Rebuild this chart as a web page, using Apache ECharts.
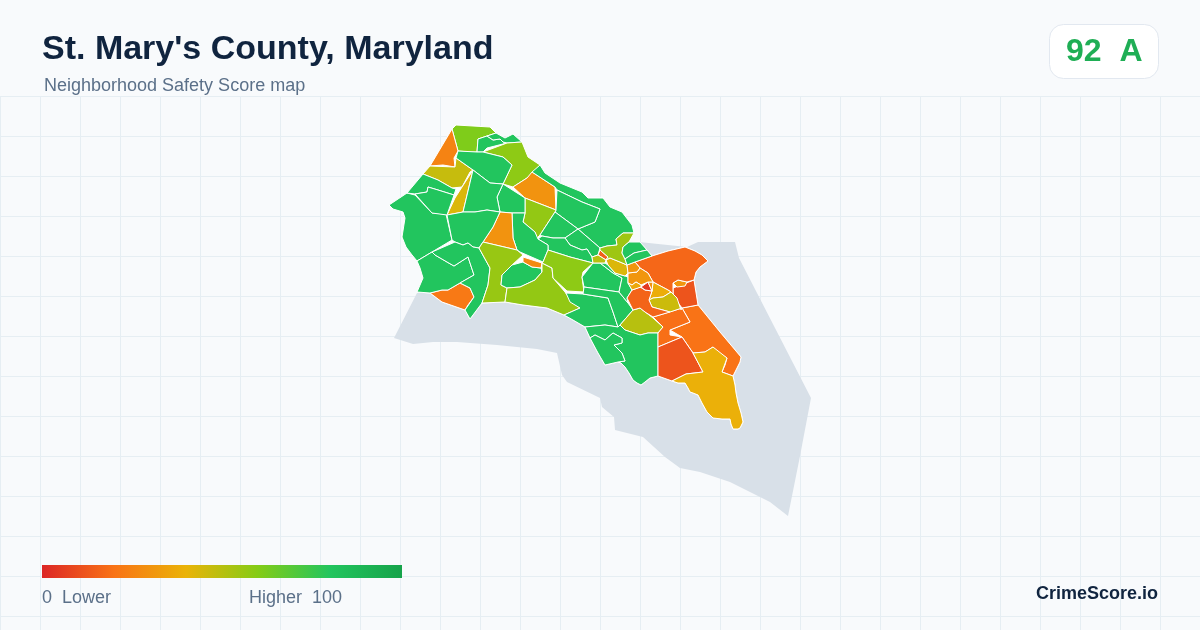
<!DOCTYPE html>
<html>
<head>
<meta charset="utf-8">
<title>St. Mary's County, Maryland</title>
<script src="https://cdn.jsdelivr.net/npm/echarts@6/dist/echarts.min.js"></script>
<style>
  html, body { margin: 0; padding: 0; background: #f8fafc; }
  #chart { width: 1200px; height: 630px; }
</style>
</head>
<body>
<div id="chart"></div>
<script>
// county outline including the water it owns (map units)
const waterOutline = [[394,338],[417,293],[480,260],[620,240],[687,247],[698,242],[735,242],[739,258],[775,328],[811,398],[800,456],[788,516],[770,502],[730,482],[700,472],[680,468],[665,457],[643,437],[615,430],[614,417],[602,407],[600,398],[567,382],[562,375],[557,353],[537,349],[497,345],[457,342],[433,342],[413,344]];

const landOutline = [[452,129],[456,125],[490,127],[496,133],[505,138],[513,134],[522,142],[528,157],[540,165],[545,173],[560,183],[582,192],[588,198],[603,198],[610,207],[622,212],[632,225],[634,233],[629,242],[640,242],[652,256],[668,251],[685,247],[695,251],[702,255],[708,261],[700,267],[696,272],[694,280],[698,305],[720,332],[741,357],[740,362],[733,376],[735,385],[736,393],[738,403],[741,413],[743,422],[740,428],[738,429],[733,429],[731,424],[730,419],[722,419],[713,418],[710,415],[707,412],[702,403],[698,395],[693,393],[690,392],[688,388],[685,383],[678,383],[672,381],[658,376],[650,378],[645,382],[641,385],[637,383],[633,380],[629,373],[625,367],[621,363],[618,362],[605,365],[598,353],[590,338],[585,327],[573,320],[564,315],[547,308],[523,305],[505,302],[482,303],[470,319],[465,310],[442,302],[430,293],[417,292],[420,285],[423,278],[420,268],[417,261],[412,255],[406,247],[402,237],[405,218],[403,212],[393,209],[389,205],[407,193],[423,174],[430,166]];

const tractShapes = [
  [[452,129],[456,125],[490,127],[496,133],[487,136],[478,139],[477,152],[470,152],[458,151]],
  [[452,129],[458,151],[454,158],[455,167],[443,165],[430,166]],
  [[423,174],[430,166],[455,167],[456,158],[473,170],[470,172],[462,187],[452,188],[438,180]],
  [[473,170],[463,212],[447,215],[455,198],[462,187]],
  [[477,152],[478,139],[487,136],[493,140],[500,139],[503,142],[507,143],[487,148],[483,152]],
  [[487,136],[496,133],[505,138],[513,134],[522,142],[507,143],[503,142],[500,139],[493,140]],
  [[483,152],[507,143],[522,142],[528,157],[540,165],[527,178],[513,187],[503,184],[512,165],[503,157]],
  [[458,151],[477,152],[483,152],[503,157],[512,165],[503,184],[490,183],[473,170],[456,158]],
  [[513,187],[527,178],[532,172],[555,187],[556,210],[525,198]],
  [[532,172],[540,165],[545,173],[560,183],[582,192],[588,198],[603,198],[610,207],[622,212],[632,225],[634,233],[623,233],[616,239],[617,245],[607,246],[600,248],[578,229],[595,222],[600,209],[582,202],[557,190],[555,187]],
  [[557,190],[582,202],[600,209],[595,222],[578,229],[555,212],[556,210]],
  [[525,198],[556,210],[555,212],[540,235],[537,238],[535,232],[523,222],[525,213]],
  [[555,212],[578,229],[565,238],[553,238],[542,236],[540,235]],
  [[565,238],[578,229],[600,248],[598,255],[592,257],[587,249],[582,250],[570,245]],
  [[542,236],[553,238],[565,238],[570,245],[582,250],[587,249],[592,257],[593,263],[570,257],[548,250],[548,245],[538,239]],
  [[503,184],[525,198],[525,213],[512,213],[500,212],[497,197]],
  [[512,213],[525,213],[523,222],[535,232],[538,239],[548,245],[548,250],[543,262],[520,252],[517,250],[513,238]],
  [[500,212],[512,213],[513,238],[517,250],[483,242],[493,227]],
  [[473,170],[490,183],[503,184],[497,197],[500,212],[487,210],[475,212],[465,212],[463,212]],
  [[407,193],[415,195],[432,213],[446,214],[452,240],[432,252],[417,261],[412,255],[406,247],[402,237],[405,218],[403,212],[393,209],[389,205]],
  [[407,193],[423,174],[438,180],[452,188],[456,189],[454,195],[438,190],[428,187],[427,192],[415,194]],
  [[415,194],[427,192],[428,187],[438,190],[454,195],[447,215],[432,213]],
  [[447,215],[463,212],[475,212],[487,210],[500,212],[493,227],[483,242],[479,248],[473,247],[468,243],[463,245],[455,242],[452,240]],
  [[430,293],[442,290],[448,290],[460,283],[470,288],[474,297],[468,305],[465,310],[442,302]],
  [[417,261],[432,252],[435,255],[447,262],[454,266],[468,257],[474,275],[460,283],[448,290],[442,290],[430,293],[417,292],[420,285],[423,278],[420,268]],
  [[432,252],[455,242],[463,245],[468,243],[473,247],[479,248],[490,268],[488,285],[482,303],[470,319],[465,310],[474,297],[470,288],[460,283],[474,275],[468,257],[454,266],[447,262],[435,255]],
  [[479,248],[483,242],[517,250],[523,255],[512,265],[502,275],[501,285],[507,288],[505,302],[482,303],[488,285],[490,268]],
  [[523,262],[532,267],[541,268],[542,272],[535,280],[520,287],[507,288],[501,285],[502,275],[512,265]],
  [[523,257],[542,263],[541,268],[532,267],[523,262]],
  [[542,263],[552,268],[553,278],[565,292],[572,302],[580,308],[564,315],[547,308],[523,305],[505,302],[507,288],[520,287],[535,280],[542,272]],
  [[548,250],[570,257],[593,263],[583,272],[582,277],[584,292],[567,291],[553,278],[552,268],[542,263],[543,262]],
  [[582,277],[593,263],[600,263],[613,273],[622,278],[619,292],[584,287]],
  [[566,293],[583,294],[608,298],[613,312],[618,327],[605,325],[585,327],[573,320],[564,315],[580,308],[570,302]],
  [[584,287],[619,292],[628,303],[633,310],[620,325],[618,327],[613,312],[608,298],[583,294]],
  [[605,263],[608,265],[615,273],[625,276],[628,277],[628,283],[632,290],[627,298],[628,303],[619,292],[622,278],[613,273],[600,263]],
  [[620,325],[633,310],[640,308],[653,318],[663,327],[658,333],[648,333],[640,335],[625,330]],
  [[585,327],[605,325],[618,327],[620,325],[625,330],[640,335],[648,333],[658,333],[658,347],[658,376],[650,378],[645,382],[641,385],[637,383],[633,380],[629,373],[625,367],[621,363],[618,362],[625,361],[622,353],[614,345],[622,343],[622,338],[613,333],[605,340],[595,335],[590,338]],
  [[590,338],[595,335],[605,340],[613,333],[622,338],[622,343],[614,345],[622,353],[625,361],[618,362],[605,365],[598,353]],
  [[682,308],[698,305],[720,332],[741,357],[740,362],[733,376],[722,372],[725,365],[727,358],[719,353],[713,347],[705,352],[693,353],[682,337],[670,330],[690,322]],
  [[653,317],[682,308],[690,322],[670,330],[670,335],[682,337],[658,347],[658,333],[663,327]],
  [[658,347],[682,337],[693,353],[703,372],[686,374],[672,381],[658,376]],
  [[693,353],[705,352],[713,347],[727,358],[722,372],[733,376],[735,385],[736,393],[738,403],[741,413],[743,422],[740,428],[738,429],[733,429],[731,424],[730,419],[722,419],[713,418],[710,415],[707,412],[702,403],[698,395],[693,393],[690,392],[688,388],[685,383],[678,383],[672,381],[686,374],[703,372]],
  [[673,288],[694,280],[698,305],[682,308],[673,296]],
  [[673,283],[678,280],[687,282],[685,286],[677,287]],
  [[635,262],[652,256],[668,251],[685,247],[695,251],[702,255],[708,261],[700,267],[696,272],[694,280],[687,282],[678,280],[673,283],[673,288],[673,296],[677,298],[671,292],[668,290],[653,282],[648,273],[640,268]],
  [[652,291],[653,282],[668,290],[671,292],[663,297],[653,298],[649,300]],
  [[653,298],[663,297],[671,292],[677,298],[681,310],[682,308],[670,312],[652,307],[649,300]],
  [[627,298],[632,290],[640,287],[641,287],[645,290],[652,291],[649,300],[652,307],[670,312],[653,317],[645,312],[640,308],[633,310]],
  [[641,287],[648,282],[652,291],[645,290]],
  [[648,282],[653,282],[652,291]],
  [[628,273],[637,272],[640,268],[648,273],[653,282],[648,282],[641,285],[636,282],[632,285],[628,283]],
  [[628,283],[632,285],[636,282],[641,285],[641,287],[640,287],[632,290]],
  [[606,260],[610,258],[620,262],[627,265],[628,273],[625,276],[615,273],[608,265]],
  [[627,265],[635,262],[640,268],[637,272],[628,273]],
  [[600,250],[608,257],[606,260],[598,255]],
  [[592,257],[598,255],[606,260],[605,263],[600,263],[593,263]],
  [[600,248],[607,246],[617,245],[616,239],[623,233],[634,233],[629,242],[623,247],[622,253],[625,259],[627,265],[620,262],[610,258],[606,260],[608,257],[600,250]],
  [[623,247],[629,242],[640,242],[647,250],[634,253],[625,259],[622,253]],
  [[625,259],[634,253],[647,250],[652,256],[635,262],[627,265]]
];

const tractScores = [61, 25, 47, 43, 80, 80, 58, 80, 30, 80, 80, 57, 80, 80, 80, 80, 80, 30, 80, 80, 80, 80, 80, 22, 80, 80, 56, 80, 27, 57, 58, 80, 80, 80, 80, 50, 80, 80, 20, 19, 12, 39, 12, 31, 17, 38, 46, 16, 5, 30, 31, 37, 43, 31, 15, 50, 55, 80, 80];
const tractNames = tractScores.map((_, i) => "Tract " + (i + 1));

const legendColors = ["#dc2626", "#f97316", "#eab308", "#84cc16", "#22c55e", "#16a34a"];

const features = [
  { type: "Feature", properties: { name: "Water" }, geometry: { type: "Polygon", coordinates: [waterOutline] } },
  { type: "Feature", properties: { name: "Land" }, geometry: { type: "Polygon", coordinates: [landOutline] } }
];
tractShapes.forEach((ring, i) => {
  features.push({ type: "Feature", properties: { name: tractNames[i] }, geometry: { type: "Polygon", coordinates: [ring] } });
});
echarts.registerMap("stmarys", { type: "FeatureCollection", features: features });

// the map box is the bounding box of what was traced, so map units land on page pixels
const allPoints = waterOutline.concat(landOutline);
const xs = allPoints.map(p => p[0]);
const ys = allPoints.map(p => p[1]);
const mapLeft = Math.min(...xs);
const mapTop = Math.min(...ys);
const mapWidth = Math.max(...xs) - mapLeft;
const mapHeight = Math.max(...ys) - mapTop;

const chart = echarts.init(document.getElementById("chart"));
chart.setOption({
  backgroundColor: "#f8fafc",
  animation: false,
  title: {
    text: "St. Mary's County, Maryland",
    left: 42,
    top: 33,
    padding: 0,
    z: 10,
    textStyle: { fontFamily: "Liberation Sans", fontSize: 34, fontWeight: "bold", color: "#10243f" }
  },
  grid: { left: 0, right: 0, top: 96, bottom: 0, z: 0 },
  xAxis: {
    type: "value", min: 0, max: 1200, interval: 40, z: 0,
    axisLine: { show: false }, axisTick: { show: false }, axisLabel: { show: false },
    splitLine: { lineStyle: { color: "#e6eef3", width: 1 } }
  },
  yAxis: {
    type: "value", min: 0, max: 534, interval: 40, inverse: true, z: 0,
    axisLine: { show: false }, axisTick: { show: false }, axisLabel: { show: false },
    splitLine: { lineStyle: { color: "#e6eef3", width: 1 } }
  },
  // the legend bar is drawn below from the same colours, this only maps scores to colours
  visualMap: {
    type: "continuous",
    show: false,
    min: 0,
    max: 100,
    seriesIndex: 0,
    inRange: { color: legendColors }
  },
  geo: {
    map: "stmarys",
    silent: true,
    roam: false,
    z: 5,
    aspectScale: 1,
    projection: { project: p => p, unproject: p => p },
    left: mapLeft,
    top: mapTop,
    width: mapWidth,
    height: mapHeight,
    label: { show: false },
    itemStyle: { areaColor: "#d8e0e8", borderColor: "#ffffff", borderWidth: 1 },
    regions: [
      { name: "Water", itemStyle: { areaColor: "#d8e0e8", borderWidth: 0 } },
      { name: "Land", itemStyle: { areaColor: "#ffffff", borderColor: "#ffffff", borderWidth: 1 } }
    ]
  },
  series: [{
    type: "map",
    geoIndex: 0,
    silent: true,
    data: tractNames.map((name, i) => ({ name: name, value: tractScores[i] }))
  }],
  graphic: [
    { type: "text", z: 10, left: 44, top: 77, style: { text: "Neighborhood Safety Score map", font: "18px 'Liberation Sans'", fill: "#5b7089" } },
    { type: "rect", z: 10, left: 1049, top: 24, shape: { width: 109, height: 54, r: 14 }, style: { fill: "#ffffff", stroke: "#e2e8f0", lineWidth: 1 } },
    { type: "text", z: 11, left: 1066, top: 36, style: { text: "92  A", font: "bold 32px 'Liberation Sans'", fill: "#1fae55" } },
    {
      type: "rect", z: 10, left: 42, top: 565, shape: { width: 360, height: 13 },
      style: { fill: new echarts.graphic.LinearGradient(0, 0, 1, 0, legendColors.map((c, i) => ({ offset: i / (legendColors.length - 1), color: c }))) }
    },
    { type: "text", z: 10, left: 42, top: 589, style: { text: "0  Lower", font: "18px 'Liberation Sans'", fill: "#5b7089" } },
    { type: "text", z: 10, left: 249, top: 589, style: { text: "Higher  100", font: "18px 'Liberation Sans'", fill: "#5b7089" } },
    { type: "text", z: 10, right: 42, top: 585, style: { text: "CrimeScore.io", font: "bold 18px 'Liberation Sans'", fill: "#10243f" } }
  ]
});
</script>
</body>
</html>
